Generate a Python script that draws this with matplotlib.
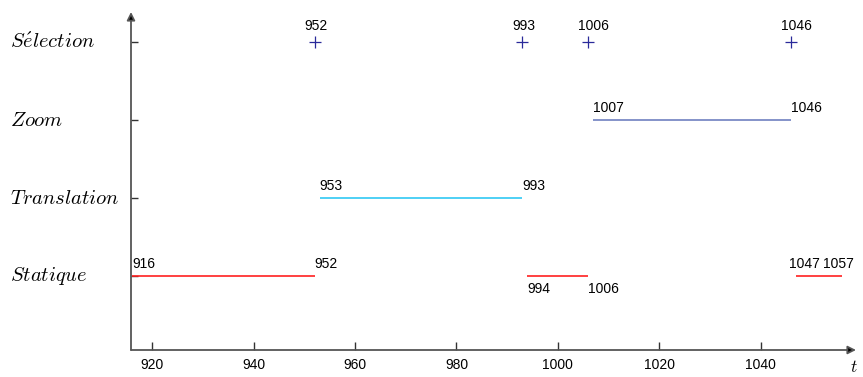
import matplotlib
matplotlib.use("Agg")
import matplotlib.pyplot as plt
from matplotlib.transforms import blended_transform_factory

plt.rcParams['mathtext.fontset'] = 'cm'
plt.rcParams['font.family'] = ['Liberation Sans', 'DejaVu Sans']

# états (de bas en haut)
etats = [r'$Statique$', r'$Translation$', r'$Zoom$', r'$S\acute{e}lection$']
niveaux = [1, 2, 3, 4]

# intervalles tracés [début, fin] et valeurs affichées
statique = [(916, 952), (994, 1006), (1047, 1056)]
statique_lab = [(916, 952), (994, 1006), (1047, 1057)]
translation = [(953, 993)]
zoom = [(1007, 1046)]
selection = [952, 993, 1006, 1046]

xticks = [920, 940, 960, 980, 1000, 1020, 1040]

fig = plt.figure(figsize=(8.63, 3.77), dpi=100)
ax = fig.add_axes([131 / 863, 27 / 377, (856 - 131) / 863, (365 - 27) / 377])
ax.set_xlim(915.8, 1058.8)
ax.set_ylim(0.05, 4.39)

c_stat = '#ff2020'
c_trans = '#30c8f4'
c_zoom = '#7080c0'
c_sel = '#2a2a9a'
fs = 10

# Statique : étiquettes au-dessus sauf le 2e segment (en dessous)
for i, ((a, b), (la, lb)) in enumerate(zip(statique, statique_lab)):
    ax.plot([a, b], [1, 1], color=c_stat, lw=1.2, solid_capstyle='butt')
    if i == 1:
        ax.text(a, 1 - 0.08, str(la), ha='left', va='top', fontsize=fs)
        ax.text(b, 1 - 0.08, str(lb), ha='left', va='top', fontsize=fs)
    elif i == 2:
        ax.text(a - 1.5, 1 + 0.07, str(la), ha='left', va='bottom', fontsize=fs)
        ax.text(b - 3.8, 1 + 0.07, str(lb), ha='left', va='bottom', fontsize=fs)
    else:
        ax.text(a, 1 + 0.07, str(la), ha='left', va='bottom', fontsize=fs)
        ax.text(b, 1 + 0.07, str(lb), ha='left', va='bottom', fontsize=fs)

for a, b in translation:
    ax.plot([a, b], [2, 2], color=c_trans, lw=1.2, solid_capstyle='butt')
    ax.text(a, 2 + 0.07, str(a), ha='left', va='bottom', fontsize=fs)
    ax.text(b, 2 + 0.07, str(b), ha='left', va='bottom', fontsize=fs)

for a, b in zoom:
    ax.plot([a, b], [3, 3], color=c_zoom, lw=1.2, solid_capstyle='butt')
    ax.text(a, 3 + 0.07, str(a), ha='left', va='bottom', fontsize=fs)
    ax.text(b, 3 + 0.07, str(b), ha='left', va='bottom', fontsize=fs)

ax.plot(selection, [4] * len(selection), '+', color=c_sel, ms=8, mew=0.9)
for s in selection:
    ax.text(s - 2, 4 + 0.12, str(s), ha='left', va='bottom', fontsize=fs)

# axes avec flèches
for sp in ax.spines.values():
    sp.set_visible(False)
ax.annotate('', xy=(1.0, 0), xytext=(0, 0), xycoords='axes fraction',
            arrowprops=dict(arrowstyle='-|>', color='#555555', lw=1.3,
                            mutation_scale=12, shrinkA=0, shrinkB=0,
                            fc='black'))
ax.annotate('', xy=(0, 1.0), xytext=(0, 0), xycoords='axes fraction',
            arrowprops=dict(arrowstyle='-|>', color='#555555', lw=1.3,
                            mutation_scale=12, shrinkA=0, shrinkB=0,
                            fc='black'))

ax.set_xticks(xticks)
ax.set_xticklabels([str(v) for v in xticks], fontsize=fs)
ax.tick_params(axis='x', direction='in', length=6, width=1, color='#333333', pad=6)
ax.set_yticks(niveaux)
ax.set_yticklabels([])
ax.tick_params(axis='y', direction='in', length=5, width=1, color='#333333')

tr = blended_transform_factory(fig.transFigure, ax.transData)
for lab, y in zip(etats, niveaux):
    ax.text(10 / 863, y, lab, transform=tr, ha='left', va='center', fontsize=14.8)

ax.text(0.997, -0.028, r'$t$', transform=ax.transAxes, ha='center', va='top', fontsize=12.5)

fig.savefig('out.png', dpi=100)
